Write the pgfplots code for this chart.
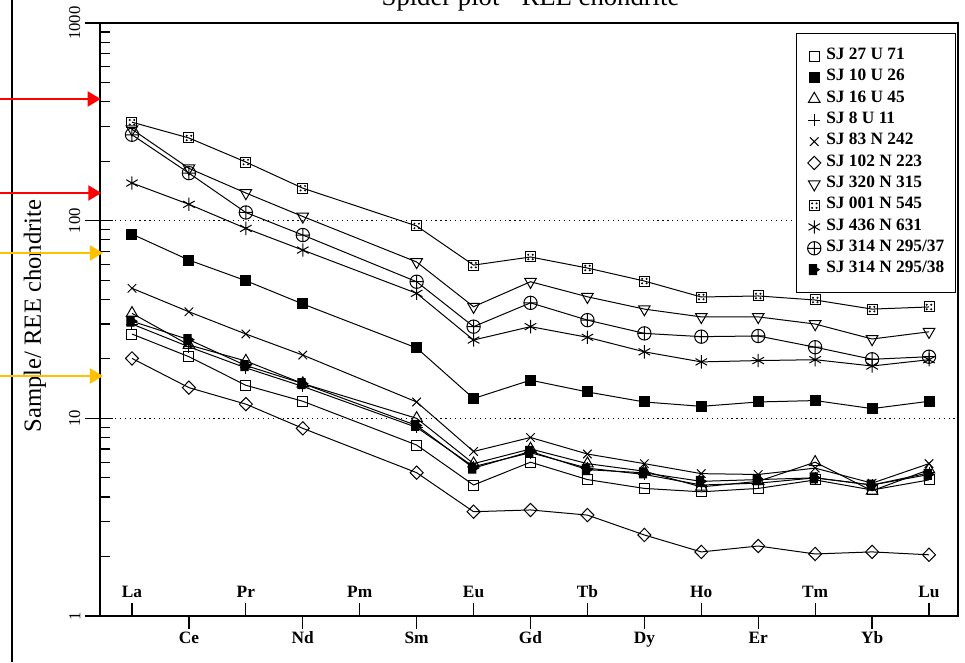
\documentclass[border=0pt]{standalone}
\usepackage{fontspec}
\setmainfont{Liberation Serif}
\usepackage{pgfplots}
\pgfplotsset{compat=1.18}
\usetikzlibrary{arrows.meta}
\definecolor{amber}{RGB}{255,192,0}

\pgfdeclareplotmark{sqdots}{%
 \pgfpathrectangle{\pgfqpoint{-\pgfplotmarksize}{-\pgfplotmarksize}}{\pgfqpoint{2\pgfplotmarksize}{2\pgfplotmarksize}}%
 \pgfusepathqstroke
 \pgfpathcircle{\pgfqpoint{-0.45\pgfplotmarksize}{0.45\pgfplotmarksize}}{0.22\pgfplotmarksize}%
 \pgfpathcircle{\pgfqpoint{0.45\pgfplotmarksize}{0.45\pgfplotmarksize}}{0.22\pgfplotmarksize}%
 \pgfpathcircle{\pgfqpoint{-0.45\pgfplotmarksize}{-0.45\pgfplotmarksize}}{0.22\pgfplotmarksize}%
 \pgfpathcircle{\pgfqpoint{0.45\pgfplotmarksize}{-0.45\pgfplotmarksize}}{0.22\pgfplotmarksize}%
 \pgfusepathqfill}
\pgfdeclareplotmark{flag}{%
 \pgfpathmoveto{\pgfqpoint{-\pgfplotmarksize}{-\pgfplotmarksize}}%
 \pgfpathlineto{\pgfqpoint{0.45\pgfplotmarksize}{-\pgfplotmarksize}}%
 \pgfpathlineto{\pgfqpoint{0.45\pgfplotmarksize}{-0.35\pgfplotmarksize}}%
 \pgfpathlineto{\pgfqpoint{\pgfplotmarksize}{0pt}}%
 \pgfpathlineto{\pgfqpoint{0.45\pgfplotmarksize}{0.35\pgfplotmarksize}}%
 \pgfpathlineto{\pgfqpoint{0.45\pgfplotmarksize}{\pgfplotmarksize}}%
 \pgfpathlineto{\pgfqpoint{-\pgfplotmarksize}{\pgfplotmarksize}}%
 \pgfpathclose
 \pgfusepathqfillstroke}

\begin{document}
\begin{tikzpicture}[x=1pt,y=1pt]
\begin{axis}[
  at={(0pt,0pt)}, anchor=south west,
  scale only axis, width=643.5pt, height=444.75pt,
  ymode=log, ymin=1, ymax=1000,
  xmin=-0.562, xmax=14.509,
  clip=false,
  axis line style={line width=0.9pt},
  every tick/.style={line width=0.9pt, black},
  xtick pos=bottom, ytick pos=left,
  tick align=inside,
  major tick length=9.75pt, minor tick length=7.5pt,
  xtick={0,2,4,6,8,10,12,14},
  xticklabels={La,Pr,Pm,Eu,Tb,Ho,Tm,Lu},
  xticklabel style={font=\bfseries\fontsize{13}{15}\selectfont, anchor=base, yshift=14.25pt},
  extra x ticks={1,3,5,7,9,11,13},
  extra x tick labels={Ce,Nd,Sm,Gd,Dy,Er,Yb},
  extra x tick style={tick align=outside, xtick pos=bottom, xticklabel style={yshift=-25.5pt}},
  ytick={10,100},
  yticklabels={},
  minor ytick={2,3,4,5,6,7,8,9,20,30,40,50,60,70,80,90,200,300,400,500,600,700,800,900},
  ymajorgrids,
  major grid style={black, line width=0.9pt, dash pattern=on 0.9pt off 2.8pt},
  extra y ticks={1,10,100,1000},
  extra y tick labels={1,10,100,1000},
  extra y tick style={tick align=outside, ytick pos=left, major tick length=11.25pt, grid=none},
  yticklabel style={rotate=90, anchor=south, font=\fontsize{12.5}{15}\selectfont},
  /pgf/number format/assume math mode=true,
  every axis plot/.append style={black, line width=0.75pt, mark options={solid}},
  mark size=3.75pt,
  legend style={at={(rel axis cs:0.9975,0.9831)}, anchor=north east,
    draw=black, line width=0.9pt,
    font=\bfseries\fontsize{13}{14}\selectfont,
    inner xsep=8.25pt, inner ysep=9pt,
    row sep=0pt,
    nodes={inner sep=0pt, text height=10.5pt, text depth=5.5pt},
    /tikz/every odd column/.append style={column sep=4pt}},
  legend cell align=left,
  legend image code/.code={\draw[#1, line width=0.75pt] plot[only marks] coordinates {(0pt,0pt)};},
]
% SJ 27 U 71
\addplot[mark=square] coordinates {(0,26.7)(1,20.5)(2,14.7)(3,12.2)(5,7.33)(6,4.6)(7,6.0)(8,4.9)(9,4.42)(10,4.25)(11,4.42)(12,4.88)(13,4.34)(14,4.88)};
\addlegendentry{SJ 27 U 71}
% SJ 10 U 26
\addplot[mark=square*] coordinates {(0,85.5)(1,63.2)(2,49.7)(3,37.9)(5,22.7)(6,12.6)(7,15.6)(8,13.6)(9,12.1)(10,11.5)(11,12.1)(12,12.3)(13,11.2)(14,12.2)};
\addlegendentry{SJ 10 U 26}
% SJ 16 U 45
\addplot[mark=triangle, mark size=5pt] coordinates {(0,34)(1,23.5)(2,19.5)(3,15)(5,10)(6,5.9)(7,7.0)(8,5.9)(9,5.4)(10,4.5)(11,4.8)(12,6.0)(13,4.3)(14,5.5)};
\addlegendentry{SJ 16 U 45}
% SJ 8 U 11
\addplot[mark=+, mark size=4.5pt] coordinates {(0,30)(1,23)(2,18)(3,14.5)(5,9)(6,5.7)(7,6.7)(8,5.6)(9,5.2)(10,4.6)(11,4.7)(12,5.0)(13,4.6)(14,5.3)};
\addlegendentry{SJ 8 U 11}
% SJ 83 N 242
\addplot[mark=x, mark size=4.5pt] coordinates {(0,45.5)(1,34.6)(2,26.7)(3,20.9)(5,12.1)(6,6.8)(7,8.0)(8,6.6)(9,5.9)(10,5.25)(11,5.2)(12,5.6)(13,4.7)(14,5.9)};
\addlegendentry{SJ 83 N 242}
% SJ 102 N 223
\addplot[mark=diamond, mark size=5pt, mark options={xscale=1.3}] coordinates {(0,20.1)(1,14.3)(2,11.8)(3,8.9)(5,5.31)(6,3.37)(7,3.44)(8,3.24)(9,2.57)(10,2.11)(11,2.26)(12,2.06)(13,2.11)(14,2.04)};
\addlegendentry{SJ 102 N 223}
% SJ 320 N 315
\addplot[mark=triangle, mark size=5pt, mark options={rotate=180}] coordinates {(0,290)(1,184)(2,138)(3,105)(5,61.8)(6,36.7)(7,49.1)(8,41.2)(9,35.7)(10,32.6)(11,32.6)(12,30)(13,25.2)(14,27.4)};
\addlegendentry{SJ 320 N 315}
% SJ 001 N 545
\addplot[mark=sqdots] coordinates {(0,315)(1,262)(2,198)(3,146)(5,94)(6,59.6)(7,65.5)(8,57.6)(9,49.5)(10,41.1)(11,41.6)(12,39.7)(13,35.7)(14,36.6)};
\addlegendentry{SJ 001 N 545}
% SJ 436 N 631
\addplot[mark=asterisk, mark size=5pt] coordinates {(0,155)(1,121)(2,91.4)(3,71)(5,42.9)(6,24.9)(7,29.1)(8,25.7)(9,21.7)(10,19.3)(11,19.6)(12,19.8)(13,18.4)(14,19.8)};
\addlegendentry{SJ 436 N 631}
% SJ 314 N 295/37
\addplot[mark=oplus, mark size=5pt] coordinates {(0,272)(1,174)(2,110)(3,84.6)(5,49.1)(6,29.1)(7,38.4)(8,31.4)(9,26.9)(10,25.9)(11,26.1)(12,22.9)(13,19.9)(14,20.5)};
\addlegendentry{SJ 314 N 295/37}
% SJ 314 N 295/38
\addplot[mark=flag] coordinates {(0,31)(1,25)(2,18.5)(3,15)(5,9.2)(6,5.6)(7,6.8)(8,5.5)(9,5.3)(10,4.8)(11,4.9)(12,5.0)(13,4.6)(14,5.2)};
\addlegendentry{SJ 314 N 295/38}
\end{axis}
% outer frame line
\draw[line width=1.1pt] (-66pt,-34.5pt) -- (-66pt,462pt);
% y label
\node[rotate=90, font=\fontsize{18.5}{22}\selectfont] at (-48.75pt,225pt) {Sample/ REE chondrite};
% title (cut at top)
\node[anchor=base, font=\fontsize{20}{24}\selectfont, inner sep=0pt] at (322.9pt,457.5pt) {Spider plot - REE chondrite};
% arrows
\draw[red, line width=1.6pt, -{Triangle[length=9.75pt,width=11.25pt]}] (-76pt,387.75pt) -- (0.5pt,387.75pt);
\draw[red, line width=1.6pt, -{Triangle[length=9.75pt,width=11.25pt]}] (-76pt,317.25pt) -- (1pt,317.25pt);
\draw[amber, line width=1.6pt, -{Triangle[length=9.75pt,width=11.25pt]}] (-76pt,272.25pt) -- (2.25pt,272.25pt);
\draw[amber, line width=1.6pt, -{Triangle[length=9.75pt,width=11.25pt]}] (-76pt,180pt) -- (2.25pt,180pt);
\pgfresetboundingbox
\path[use as bounding box] (-75pt,-34.5pt) rectangle (648.75pt,462pt);
\end{tikzpicture}
\end{document}
